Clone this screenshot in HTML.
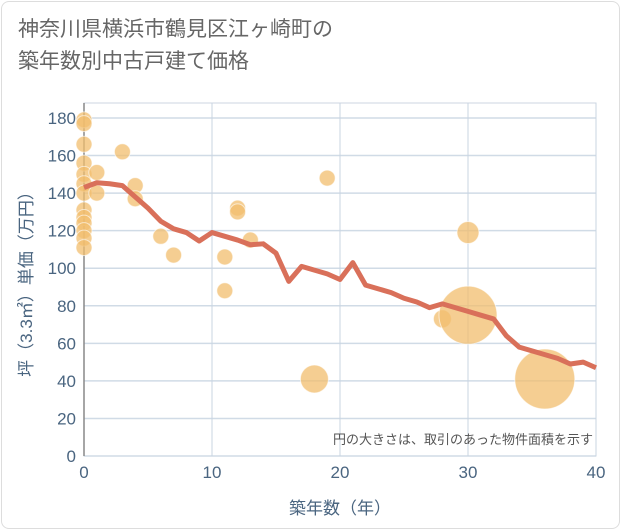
<!DOCTYPE html>
<html><head><meta charset="utf-8"><style>
body{margin:0;background:#fff;font-family:"Liberation Sans","Noto Sans CJK JP",sans-serif;}
#card{position:absolute;left:1px;top:1px;width:617px;height:526px;border:1px solid #ddd;border-radius:8px;}
#title{position:absolute;left:18px;top:14px;font-size:21px;line-height:32px;color:#666;}
</style></head><body>
<div id="card"></div>
<div id="title">神奈川県横浜市鶴見区江ヶ崎町の<br>築年数別中古戸建て価格</div>
<svg id="chart" width="621" height="530" style="position:absolute;left:0;top:0"></svg>
<script>
const xTicks=[0,10,20,30,40];
const yTicks=[0,20,40,60,80,100,120,140,160,180];
const lineYears=[0,1,2,3,4,5,6,7,8,9,10,11,12,13,14,15,16,17,18,19,20,21,22,23,24,25,26,27,28,29,30,31,32,33,34,35,36,37,38,39,40];
const lineValues=[143,145.5,145,144,138,132,125,121,119,114.5,119,117,115,112.5,113,108,93,101,99,97,94,103,91,89,87,84,82,79,81,79,77,75,73,64,58,56,54,52,49,50,47];
const ptYears=[0,0,0,0,0,0,0,0,0,0,0,0,0,1,1,3,4,4,6,7,11,11,12,12,13,18,19,28,30,30,36];
const ptValues=[179,177,166,156,150,145,140,131,127,124,120,116,111,151,140,162,144,137,117,107,106,88,132,130,115,41,148,73,119,75,41];
const ptSizes=[8,8,8,8,8,8,8,8,8,8,8,8,8,8,8,8,8,8,8,8,8,8,8,8,8,14,8,9,11,29,30];
const NS='http://www.w3.org/2000/svg';
const svg=document.getElementById('chart');
const L=84,R=596,T=103,B=456;
const xs=v=>L+(v/40)*(R-L);
const ys=v=>B-(v/180)*(B-118);
function mk(tag,attrs){const e=document.createElementNS(NS,tag);for(const k in attrs)e.setAttribute(k,attrs[k]);svg.appendChild(e);return e;}
const bg=mk('rect',{x:L,y:T,width:R-L,height:B-T,fill:'#fff',stroke:'#ccd6e0'});


yTicks.forEach(t=>{
 const g=mk('line',{x1:L,x2:R,y1:ys(t),y2:ys(t),stroke:'#d0dbe6','stroke-width':1.5});
 
 
 const tx=mk('text',{x:L-8,y:ys(t)+6,'text-anchor':'end','font-size':17,fill:'#4a6580'});
 tx.textContent=t;
 
 
});
xTicks.forEach(t=>{
 const g=mk('line',{x1:xs(t),x2:xs(t),y1:T,y2:B,stroke:'#c8d4e2','stroke-width':1});
 
 
 const tx=mk('text',{x:xs(t),y:B+22,'text-anchor':'middle','font-size':17,fill:'#4a6580'});
 tx.textContent=t;
 
 
});
const ax=mk('line',{x1:L,x2:L,y1:T,y2:B,stroke:'#888','stroke-width':1.5});


ptYears.forEach((yr,i)=>{
 const c=mk('circle',{cx:xs(yr),cy:ys(ptValues[i]),r:ptSizes[i],fill:'rgba(242,190,110,0.75)',stroke:'rgba(255,255,255,0.6)','stroke-width':1});
 
 
});
const pl=mk('polyline',{points:lineYears.map((y,i)=>xs(y)+','+ys(lineValues[i])).join(' '),fill:'none',stroke:'#d9705a','stroke-width':5,'stroke-linejoin':'round'});


const note=mk('text',{x:593,y:444,'text-anchor':'end','font-size':13,fill:'#555'});
note.textContent='円の大きさは、取引のあった物件面積を示す';


const xt=mk('text',{x:340,y:514,'text-anchor':'middle','font-size':17,fill:'#4a6580'});
xt.textContent='築年数（年）';


const yt=mk('text',{x:0,y:0,'text-anchor':'middle','font-size':17,fill:'#4a6580',transform:'translate(32,280) rotate(-90)'});
yt.textContent='坪（3.3㎡）単価（万円）';


</script>
</body></html>
